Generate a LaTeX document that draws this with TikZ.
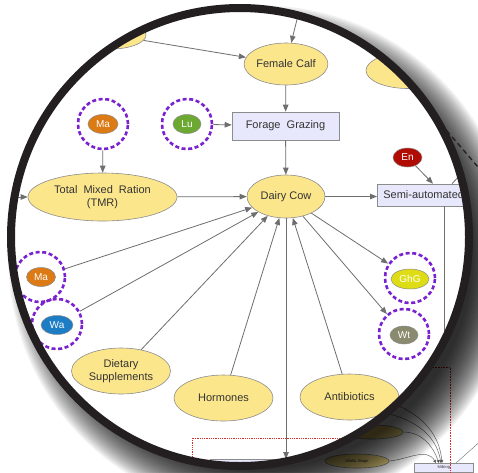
\documentclass[tikz,border=0pt]{standalone}
\usepackage{fontspec}
\setmainfont{Liberation Sans}
\usetikzlibrary{shapes.geometric,arrows.meta}
\definecolor{ylw}{HTML}{FCE68C}
\definecolor{lav}{HTML}{E8E8FC}
\definecolor{edgec}{HTML}{8C8C8C}
\definecolor{conn}{HTML}{6E6E6E}
\definecolor{txt}{HTML}{333333}
\definecolor{purp}{HTML}{7B22D0}
\definecolor{cMa}{HTML}{DC7A14}
\definecolor{cLu}{HTML}{6CA832}
\definecolor{cWa}{HTML}{1C7CC4}
\definecolor{cEn}{HTML}{B00C04}
\definecolor{cGhG}{HTML}{DEDC14}
\definecolor{cWt}{HTML}{8A8A6E}
\definecolor{reddot}{HTML}{D03030}
\definecolor{ringc}{HTML}{231F20}
\begin{document}
\begin{tikzpicture}[x=1pt,y=-1pt,
 yell/.style={ellipse,draw=edgec,fill=ylw,inner sep=0pt,text=txt,font=\fontsize{11}{13}\selectfont,align=center,line width=0.6pt},
 lbox/.style={rectangle,draw=edgec,fill=lav,inner sep=0pt,text=txt,font=\fontsize{11}{13}\selectfont,line width=0.6pt},
 tag/.style={ellipse,draw=edgec,inner sep=0pt,minimum width=30pt,minimum height=19pt,text=white,font=\fontsize{10}{12}\selectfont,line width=0.5pt},
 dring/.style={circle,draw=purp,line width=2.6pt,dash pattern=on 4pt off 2.6pt,minimum size=50pt,inner sep=0pt},
 link/.style={draw=conn,line width=0.8pt},
 arr/.style={link,-{Triangle[length=7pt,width=5.5pt,fill=conn]}},
 tinyarr/.style={draw=conn,line width=0.5pt,-{Triangle[length=3pt,width=3pt,fill=black]}},
]
\useasboundingbox (0,0) rectangle (478,472);
\fill[white] (0,0) rectangle (478,472);

% ---------- unmagnified diagram behind the lens ----------
\node[yell,minimum width=62pt,minimum height=14pt] (o1) at (372,432) {};
\node[yell,minimum width=64pt,minimum height=14pt,font=\fontsize{4}{5}\selectfont] (alf) at (357,461) {Alfalfa Silage};
\node[lbox,anchor=north west,minimum width=59pt,minimum height=9pt,font=\fontsize{4}{5}\selectfont] (milk) at (414,463) {Milking};
\coordinate (h1) at (372,398);
\coordinate (h2) at (380,412);
\coordinate (o2) at (484,438);
\draw[tinyarr] (alf.east) to[out=5,in=120] ([xshift=22pt]milk.north west);
\draw[tinyarr] (o1.east) to[out=0,in=110] ([xshift=25pt]milk.north west);
\draw[tinyarr] (h2) to[out=-10,in=100] ([xshift=27pt]milk.north west);
\draw[tinyarr] (h1) to[out=-10,in=95] ([xshift=28pt]milk.north west);
\draw[draw=conn,line width=0.4pt] (o2) -- ([xshift=42pt]milk.north west);
\draw[reddot,densely dotted,line width=0.6pt] (433,367) -- (450,367) -- (450,480);

% ---------- lens shadow ----------
\foreach \i in {0,...,29}
  \fill[black,opacity=0.05] (262,259) circle[radius={210pt+\i*1.5pt}];
\coordinate (d1) at (441,124);
\coordinate (d2) at (484,174);
\draw[ringc,line width=1.3pt,dash pattern=on 5pt off 3.5pt] (d1) -- (d2);

% ---------- lens ----------
\fill[white] (240,237) circle[radius=229pt];
\begin{scope}
\clip (240,237) circle[radius=229pt];

\node[yell,minimum width=70pt,minimum height=28pt] (tl) at (111,35) {};
\node[yell,minimum width=81pt,minimum height=42pt] (fc) at (286,64) {Female Calf};
\node[yell,minimum width=84pt,minimum height=36pt] (rt) at (408,70.5) {};
\node[lbox,minimum width=107pt,minimum height=28pt] (fg) at (285.5,126) {Forage\ \ Grazing};
\node[dring] (ma1r) at (103,124) {};
\node[tag,fill=cMa] (ma1) at (103,124) {Ma};
\node[dring] (lur) at (187,124) {};
\node[tag,fill=cLu,minimum width=28pt] (lu) at (187,124) {Lu};
\node[yell,minimum width=149pt,minimum height=48pt] (tmr) at (102.5,197) {Total\ \ Mixed\ \ Ration\\(TMR)};
\node[yell,minimum width=78pt,minimum height=43pt] (cow) at (286,196.5) {Dairy Cow};
\node[tag,fill=cEn,minimum width=29pt] (en) at (407.5,157.5) {En};
\node[lbox,anchor=west,minimum width=150pt,minimum height=22pt,text width=138pt,align=left,inner xsep=6pt] (sa) at (377,195) {Semi-automated};
\node[dring] (ma2r) at (40,277) {};
\node[tag,fill=cMa,minimum width=29pt] (ma2) at (41,277) {Ma};
\node[dring] (war) at (57,324) {};
\node[tag,fill=cWa,minimum width=32pt] (wa) at (57,325) {Wa};
\node[yell,minimum width=99pt,minimum height=46pt] (ds) at (121,371) {Dietary\\Supplements};
\node[yell,minimum width=99pt,minimum height=46pt] (ho) at (223.5,398) {Hormones};
\node[yell,minimum width=99pt,minimum height=46pt] (ab) at (349.5,397) {Antibiotics};
\node[dring] (ghr) at (410,278) {};
\node[tag,fill=cGhG,minimum width=38pt,minimum height=20pt] (gh) at (410,279) {GhG};
\node[dring] (wtr) at (404,334) {};
\node[tag,fill=cWt,minimum width=28pt,minimum height=18pt] (wt) at (404,335) {Wt};
\node[lbox,anchor=north west,minimum width=180pt,minimum height=30pt] (bb) at (210,459) {};
\draw[reddot,densely dotted,line width=0.8pt] (192,500) -- (192,438) -- (430,438);

\coordinate (tfree) at (303,-5);
\coordinate (lfree) at (4,197);
\coordinate (rfree) at (474,160);
\coordinate (sadown) at (444,380);

\draw[arr] (tfree) -- (fc);
\draw[arr] (tl) -- (fc);
\draw[arr] (fc) -- (fg);
\draw[arr] (fg) -- (cow);
\draw[arr] (lur) -- (fg);
\draw[arr] (ma1r) -- (tmr);
\draw[arr] (lfree) -- (tmr);
\draw[arr] (tmr) -- (cow);
\draw[arr] (cow.east) -- (cow.east -| sa.west);
\draw[arr] (en) -- ([xshift=56pt]sa.north west);
\draw[link] ([xshift=75pt]sa.north west) -- (rfree);
\draw[link] (sadown |- sa.south) -- (sadown);
\draw[arr] (ma2r) -- (cow);
\draw[arr] (war) -- (cow);
\draw[arr] (ds) -- (cow);
\draw[arr] (ho) -- (cow);
\draw[arr] (ab) -- (cow);
\draw[arr] (cow) -- (ghr);
\draw[arr] (cow) -- (wtr);
\draw[arr] (cow.south) -- (cow.south |- bb.north);
\end{scope}
\draw[ringc,line width=8pt] (240,237) circle[radius=229pt];
\end{tikzpicture}
\end{document}
